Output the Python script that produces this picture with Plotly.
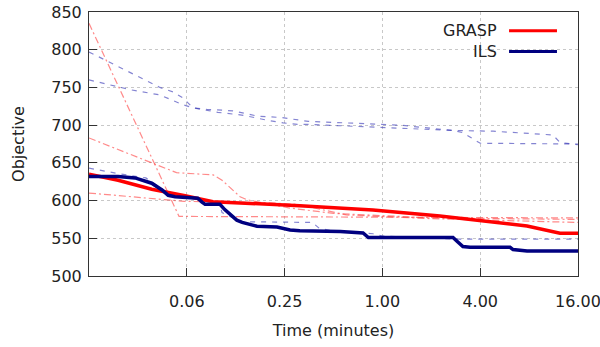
import plotly.graph_objects as go

# ---- data (time in minutes, objective) ----
grasp_x = [0.015625, 0.0236, 0.038, 0.0507, 0.061, 0.0906, 0.147, 0.31, 0.875, 2.26, 7.77, 12.4, 16]
grasp_y = [635, 627, 615, 610, 606.5, 598.5, 596.4, 593.2, 587.5, 579.5, 566.3, 556.6, 556.6]

ils_x = [0.015625, 0.0236, 0.030, 0.038, 0.044, 0.048, 0.053, 0.061, 0.073, 0.0775, 0.081, 0.100,
         0.107, 0.127, 0.137, 0.169, 0.2245, 0.27, 0.31, 0.55, 0.76, 0.82, 2.72, 2.88, 3.13, 3.46,
         6.11, 6.37, 7.77, 16]
ils_y = [632, 632, 630, 623, 614, 607, 605, 604, 603, 598, 595, 595,
         588, 574, 571, 566, 565, 561, 560, 559, 557, 551, 551, 546, 539, 538,
         538, 535, 533, 533]

# thin GRASP runs (dash-dot red)
grasp_run1_x = [0.015625, 0.056, 1.0, 16]
grasp_run1_y = [835, 579, 578, 577]
grasp_run2_x = [0.015625, 0.054, 0.091, 0.103, 0.133, 0.147, 0.27, 0.5, 2.0, 16]
grasp_run2_y = [683, 637, 634, 627, 605, 601, 590, 583, 577, 575]
grasp_run3_x = [0.015625, 0.06, 0.2, 0.3, 0.6, 2.0, 16]
grasp_run3_y = [610, 599, 597, 595, 581, 576, 571]

# thin ILS runs (dashed blue)
ils_run1_x = [0.015625, 0.026, 0.0427, 0.0514, 0.0592, 0.0682, 0.083, 0.12, 0.17, 0.24, 0.30, 0.35,
              1.28, 2.7, 4.8, 11.2, 12.4, 16]
ils_run1_y = [797, 773, 750, 744, 736, 723, 721, 719, 712, 710, 707, 705,
              700, 693, 692, 687, 677, 674]
ils_run2_x = [0.015625, 0.028, 0.0427, 0.0514, 0.0592, 0.0682, 0.097, 0.14, 0.17, 0.20, 0.245,
              0.30, 0.35, 1.28, 2.72, 3.13, 4.0, 16]
ils_run2_y = [760, 747, 740, 733, 727, 723, 717, 713, 709, 706, 703,
              701, 701, 696, 693, 690, 676, 675]
ils_run3_x = [0.015625, 0.0233, 0.035, 0.045, 0.06, 0.078, 0.10, 0.103, 0.135, 0.37, 0.41,
              0.49, 0.875, 1.0, 2.7, 16]
ils_run3_y = [643, 636, 630, 614, 606, 600, 595, 584, 572, 571, 563,
              560, 556, 553, 549, 549]

x_tickvals = [0.0625, 0.25, 1, 4, 16]
x_ticktext = ["0.06", "0.25", "1.00", "4.00", "16.00"]
y_tickvals = [500, 550, 600, 650, 700, 750, 800, 850]

legend_names = ["GRASP", "ILS"]
legend_colors = ["#ff0000", "#000080"]

FONT = "DejaVu Sans, Verdana, sans-serif"
FS = 16
thin_red = "rgba(255,60,60,0.6)"
thin_blue = "rgba(50,50,180,0.6)"

fig = go.Figure()

for xs, ys in [(grasp_run1_x, grasp_run1_y), (grasp_run2_x, grasp_run2_y), (grasp_run3_x, grasp_run3_y)]:
    fig.add_trace(go.Scatter(x=xs, y=ys, mode="lines", showlegend=False, hoverinfo="skip",
                             line=dict(color=thin_red, width=1.2, dash="7px,3px,2px,3px")))
for xs, ys in [(ils_run1_x, ils_run1_y), (ils_run2_x, ils_run2_y), (ils_run3_x, ils_run3_y)]:
    fig.add_trace(go.Scatter(x=xs, y=ys, mode="lines", showlegend=False, hoverinfo="skip",
                             line=dict(color=thin_blue, width=1.2, dash="5px,6px")))

fig.add_trace(go.Scatter(x=grasp_x, y=grasp_y, mode="lines", name="GRASP", showlegend=False,
                         line=dict(color=legend_colors[0], width=3.5)))
fig.add_trace(go.Scatter(x=ils_x, y=ils_y, mode="lines", name="ILS", showlegend=False,
                         line=dict(color=legend_colors[1], width=3.5)))

# legend drawn gnuplot-style: text on the left, sample line on the right
for i, (name, col) in enumerate(zip(legend_names, legend_colors)):
    yy = 0.929 - i * 0.079
    fig.add_annotation(x=0.838, y=yy, xref="paper", yref="paper", text=name, showarrow=False,
                       xanchor="right", yanchor="middle", font=dict(family=FONT, size=FS, color="#222"))
    fig.add_shape(type="line", xref="paper", yref="paper", x0=0.859, x1=0.957, y0=yy, y1=yy,
                  line=dict(color=col, width=3))

axis_common = dict(showline=True, linecolor="#333", linewidth=1, mirror=True,
                   ticks="inside", ticklen=8, tickcolor="#333", automargin=False,
                   ticklabeloverflow="allow",
                   showgrid=True, gridcolor="#c8c8c8", griddash="dot", gridwidth=1,
                   zeroline=False, tickfont=dict(family=FONT, size=FS, color="#222"))

fig.update_xaxes(type="log", range=[-1.80618, 1.20412], tickvals=x_tickvals, ticktext=x_ticktext,
                 title=dict(text="Time (minutes)", font=dict(family=FONT, size=FS, color="#222"), standoff=14),
                 ticklabelstandoff=11, **axis_common)
fig.update_yaxes(range=[500, 850], tickvals=y_tickvals,
                 title=dict(text="Objective", font=dict(family=FONT, size=FS, color="#222"), standoff=22),
                 ticklabelstandoff=3, **axis_common)

fig.update_layout(width=600, height=347, margin=dict(l=89, r=22, t=12, b=71),
                  plot_bgcolor="white", paper_bgcolor="white", showlegend=False,
                  font=dict(family=FONT, size=FS, color="#222"))

fig.write_html("out.html", config={"displayModeBar": False},
               post_script="document.body.style.margin='0px';document.body.style.overflow='hidden';")
